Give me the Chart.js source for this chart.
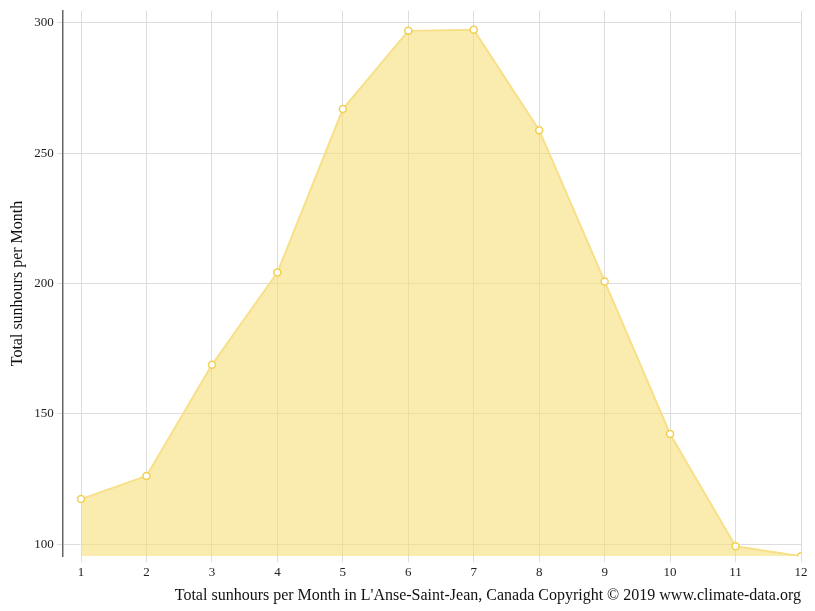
<!DOCTYPE html>
<html>
<head>
<meta charset="UTF-8" />
<script src="https://cdn.jsdelivr.net/npm/chart.js"></script>
<style>
  body { margin: 0; background: #fff; }
  #wrap { width: 815px; height: 611px; }
</style>
</head>
<body>
<div id="wrap"><canvas id="grafico"></canvas></div>
<script>
  const months = [1, 2, 3, 4, 5, 6, 7, 8, 9, 10, 11, 12];
  const sunhours = [117.3, 126.2, 168.8, 204.2, 266.9, 296.9, 297.3, 258.8, 200.8, 142.3, 99.2, 95.4];
  const yTicks = [100, 150, 200, 250, 300];

  const font = { family: 'Liberation Serif', size: 13 };

  new Chart(document.getElementById('grafico'), {
    type: 'line',
    data: {
      datasets: [{
        data: months.map((m, i) => ({ x: m, y: sunhours[i] })),
        borderColor: '#f8e08a',
        backgroundColor: 'rgba(246,224,120,0.6)',
        borderWidth: 2,
        fill: 'start',
        tension: 0,
        pointBackgroundColor: '#fff',
        pointBorderColor: '#f0d050',
        pointBorderWidth: 1.5,
        pointRadius: 3.5
      }]
    },
    options: {
      responsive: true,
      maintainAspectRatio: false,
      animation: false,
      layout: { padding: { top: 8, right: 14, left: 4, bottom: 2 } },
      plugins: { legend: { display: false }, tooltip: { enabled: false } },
      scales: {
        x: {
          type: 'linear',
          min: 0.72,
          max: 12,
          afterBuildTicks: a => { a.ticks = months.map(v => ({ value: v })); },
          ticks: { font, color: '#222' },
          grid: { color: '#ddd', drawTicks: true, tickLength: 6 },
          border: { display: false },
          title: { display: true, text: "Total sunhours per Month in L'Anse-Saint-Jean, Canada Copyright © 2019 www.climate-data.org", font: { family: 'Liberation Serif', size: 16 }, color: '#111', align: 'end', padding: { top: 2 } }
        },
        y: {
          min: 95.4,
          max: 304.6,
          afterBuildTicks: a => { a.ticks = yTicks.map(v => ({ value: v })); },
          ticks: { font, color: '#222' },
          grid: { color: '#ddd', tickLength: 6 },
          border: { display: true, color: '#666', width: 1.5 },
          title: { display: true, text: 'Total sunhours per Month', font: { family: 'Liberation Serif', size: 16 }, color: '#111' }
        }
      }
    }
  });
</script>
</body>
</html>
